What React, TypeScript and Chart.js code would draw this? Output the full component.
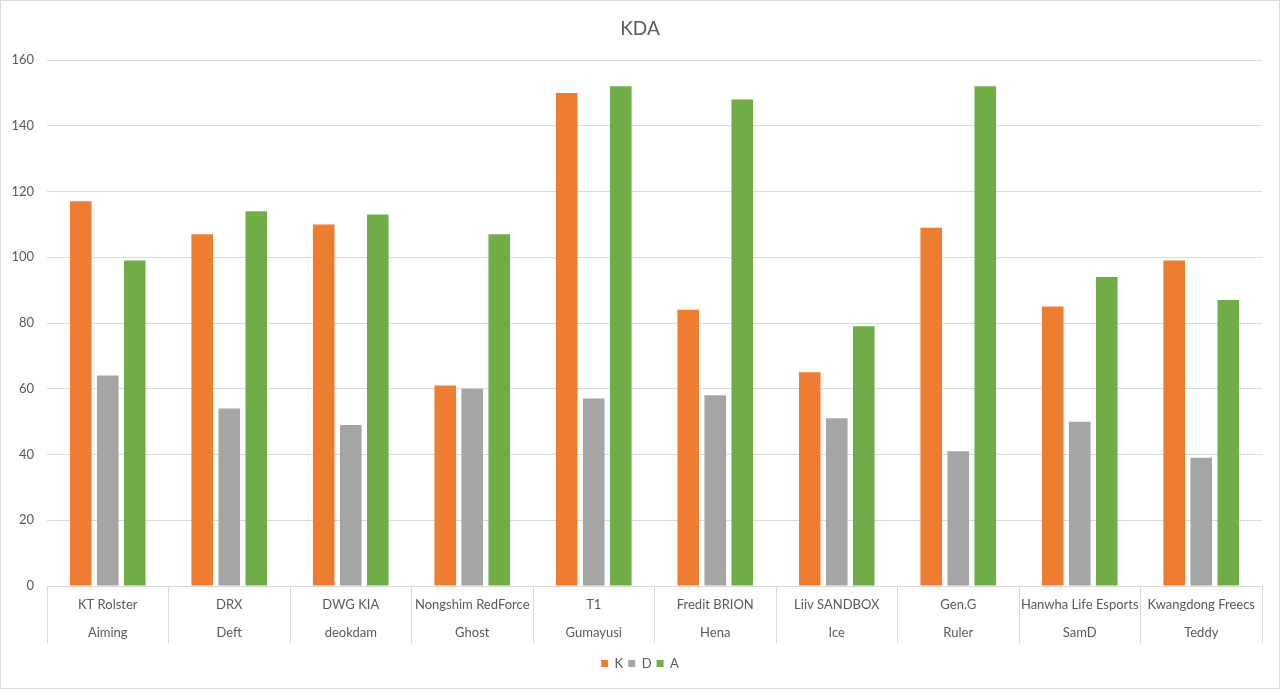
import React, { useEffect, useRef } from "react";
import { Chart, registerables } from "chart.js";

Chart.register(...registerables);

const teams = [
  "KT Rolster",
  "DRX",
  "DWG KIA",
  "Nongshim RedForce",
  "T1",
  "Fredit BRION",
  "Liiv SANDBOX",
  "Gen.G",
  "Hanwha Life Esports",
  "Kwangdong Freecs",
];
const players = ["Aiming", "Deft", "deokdam", "Ghost", "Gumayusi", "Hena", "Ice", "Ruler", "SamD", "Teddy"];

const kills = [117, 107, 110, 61, 150, 84, 65, 109, 85, 99];
const deaths = [64, 54, 49, 60, 57, 58, 51, 41, 50, 39];
const assists = [99, 114, 113, 107, 152, 148, 79, 152, 94, 87];

const yTicks = [0, 20, 40, 60, 80, 100, 120, 140, 160];

const TEXT = "#595959";
const GRID = "#d9d9d9";
const FONT = "Lato, 'Liberation Sans', sans-serif";

export default function App() {
  const ref = useRef<HTMLCanvasElement | null>(null);

  useEffect(() => {
    if (!ref.current) return;
    const labels = teams.map((t, i) => [t, players[i]]);
    const chart = new Chart(ref.current, {
      type: "bar",
      data: {
        labels,
        datasets: [
          { label: "K", data: kills, backgroundColor: "#ED7D31", borderWidth: 0 },
          { label: "D", data: deaths, backgroundColor: "#A5A5A5", borderWidth: 0 },
          { label: "A", data: assists, backgroundColor: "#70AD47", borderWidth: 0 },
        ],
      },
      options: {
        responsive: false,
        animation: false,
        maintainAspectRatio: false,
        layout: { padding: { left: 10, right: 10, top: 0, bottom: 8 } },
        datasets: {
          bar: { categoryPercentage: 0.667, barPercentage: 0.8 },
        },
        plugins: {
          title: {
            display: true,
            text: "KDA",
            color: TEXT,
            font: { family: FONT, size: 19, weight: "normal", lineHeight: 1.2 },
            padding: { top: 16.6, bottom: 19.6 },
          },
          legend: {
            display: true,
            position: "bottom",
            labels: {
              color: TEXT,
              boxWidth: 7,
              boxHeight: 7,
              padding: 5,
              font: { family: FONT, size: 13 },
            },
          },
          tooltip: { enabled: false },
        },
        scales: {
          x: {
            offset: true,
            grid: {
              offset: true,
              drawOnChartArea: false,
              drawTicks: true,
              tickLength: 57,
              color: GRID,
            },
            border: { display: true, color: GRID },
            ticks: {
              color: TEXT,
              autoSkip: false,
              maxRotation: 0,
              minRotation: 0,
              padding: -52,
              font: { family: FONT, size: 13, lineHeight: "28px" },
            },
            afterFit: (s: any) => {
              s.height = 66;
            },
          },
          y: {
            min: 0,
            max: 160,
            afterBuildTicks: (s: any) => {
              s.ticks = yTicks.map((v) => ({ value: v }));
            },
            grid: { drawTicks: false, color: GRID },
            border: { display: false },
            ticks: {
              color: TEXT,
              padding: 13,
              font: { family: FONT, size: 13 },
            },
            afterFit: (s: any) => {
              s.width = 36;
            },
          },
          yRightMargin: {
            type: "linear",
            position: "right",
            min: 0,
            max: 160,
            grid: { drawOnChartArea: false, drawTicks: false, display: false },
            border: { display: false },
            ticks: { display: false },
            afterFit: (s: any) => {
              s.width = 7;
            },
          },
        },
      },
    });
    return () => chart.destroy();
  }, []);

  return (
    <div
      style={{
        position: "fixed",
        left: 0,
        top: 0,
        width: 1280,
        height: 689,
        boxSizing: "border-box",
        border: "1px solid #d9d9d9",
        background: "#fff",
      }}
    >
      <canvas ref={ref} width={1278} height={687} style={{ display: "block" }} />
    </div>
  );
}
